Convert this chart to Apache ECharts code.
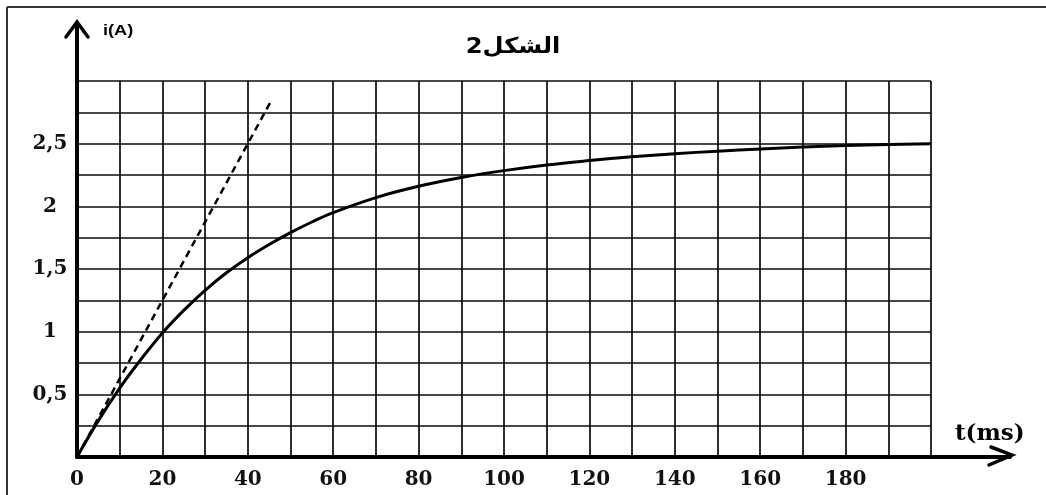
<!DOCTYPE html>
<html>
<head>
<meta charset="utf-8">
<script src="https://cdn.jsdelivr.net/npm/echarts@6/dist/echarts.min.js"></script>
<style>html,body{margin:0;padding:0;background:#fff;}#c{width:1046px;height:495px;}</style>
</head>
<body>
<div id="c"></div>
<script>
// ---- data ----
const tValues = [0, 5, 10, 15, 20, 25, 30, 35, 40, 45, 50, 55, 60, 70, 80, 90, 100, 110, 120, 130, 140, 150, 160, 170, 180, 190, 200];
const iValues = [0, 0.29, 0.55, 0.78, 0.99, 1.17, 1.33, 1.47, 1.59, 1.695, 1.79, 1.875, 1.95, 2.07, 2.16, 2.23, 2.285, 2.33, 2.365, 2.395, 2.42, 2.44, 2.458, 2.473, 2.485, 2.494, 2.50];
const tangentT = [0, 45.6];
const tangentI = [0, 2.85];
const xTickLabels = ['0', '20', '40', '60', '80', '100', '120', '140', '160', '180'];
const yTickValues = [0.5, 1, 1.5, 2, 2.5];
const yTickLabels = ['0,5', '1', '1,5', '2', '2,5'];
const titleText = 'الشكل2';
const yName = 'i(A)';
const xName = 't(ms)';
const xMax = 200, yMax = 3;

const chart = echarts.init(document.getElementById('c'), null, {renderer: 'canvas'});
const labelFont = {fontFamily: 'DejaVu Serif', fontWeight: 'bold', fontSize: 20, color: '#111'};
const option = {
  backgroundColor: '#fff',
  animation: false,
  grid: {left: 77, right: 115, top: 81, bottom: 38, containLabel: false},
  xAxis: {
    type: 'value', min: 0, max: xMax, interval: 10,
    axisLine: {show: false}, axisTick: {show: false},
    splitLine: {show: true, lineStyle: {color: '#0a0a0a', width: 1.7}},
    axisLabel: Object.assign({
      margin: 13,
      formatter: v => xTickLabels.includes(String(v)) ? String(v) : ''
    }, labelFont)
  },
  yAxis: {
    type: 'value', min: 0, max: yMax, interval: 0.25,
    axisLine: {show: false}, axisTick: {show: false},
    splitLine: {show: true, lineStyle: {color: '#0a0a0a', width: 1.7}},
    axisLabel: Object.assign({
      margin: 27, align: 'center',
      formatter: v => { const k = yTickValues.indexOf(v); return k >= 0 ? yTickLabels[k] : ''; }
    }, labelFont)
  },
  series: [
    {
      type: 'line', smooth: 0.4, showSymbol: false,
      data: tValues.map((t, k) => [t, iValues[k]]),
      lineStyle: {color: '#000', width: 3}, z: 5
    },
    {
      type: 'line', showSymbol: false,
      data: tangentT.map((t, k) => [t, tangentI[k]]),
      lineStyle: {color: '#000', width: 2.5, type: [7, 5]}, z: 6
    }
  ]
};
chart.setOption(option);

const o = chart.convertToPixel({gridIndex: 0}, [0, 0]);
const tp = chart.convertToPixel({gridIndex: 0}, [0, yMax]);
const rp = chart.convertToPixel({gridIndex: 0}, [xMax, 0]);
const yTip = tp[1] - 59;
const xTip = rp[0] + 81;
const axisStyle = {stroke: '#000', lineWidth: 4, lineCap: 'round'};
const arrowStyle = {stroke: '#000', fill: null, lineWidth: 3.5, lineJoin: 'miter', lineCap: 'round'};
chart.setOption({
  graphic: [
    {type: 'line', shape: {x1: 7, y1: 7, x2: 1046, y2: 7}, style: {stroke: '#333', lineWidth: 2}, silent: true},
    {type: 'line', shape: {x1: 7, y1: 7, x2: 7, y2: 495}, style: {stroke: '#333', lineWidth: 2}, silent: true},
    {type: 'line', shape: {x1: o[0], y1: o[1], x2: o[0], y2: yTip + 2}, style: axisStyle, z: 10},
    {type: 'line', shape: {x1: o[0], y1: o[1], x2: xTip - 2, y2: o[1]}, style: axisStyle, z: 10},
    {type: 'polyline', shape: {points: [[o[0] - 11, yTip + 15], [o[0], yTip], [o[0] + 11, yTip + 15]]}, style: arrowStyle, z: 10},
    {type: 'polyline', shape: {points: [[xTip - 21, o[1] - 10], [xTip, o[1] - 2], [xTip - 23, o[1] + 8]]}, style: arrowStyle, z: 10},
    {type: 'text', x: 103, y: 24, scaleX: 1.3, style: {text: yName, font: 'bold 14px "Liberation Sans"', fill: '#000'}, z: 10},
    {type: 'text', x: 955, y: 423, style: {text: xName, font: 'bold 23px "DejaVu Serif"', fill: '#000'}, z: 10},
    {type: 'text', x: 513, y: 47, scaleX: 1.1, style: {text: titleText, font: 'bold 22px "DejaVu Sans"', fill: '#000', align: 'center', verticalAlign: 'middle'}, z: 10}
  ]
});
</script>
</body>
</html>
